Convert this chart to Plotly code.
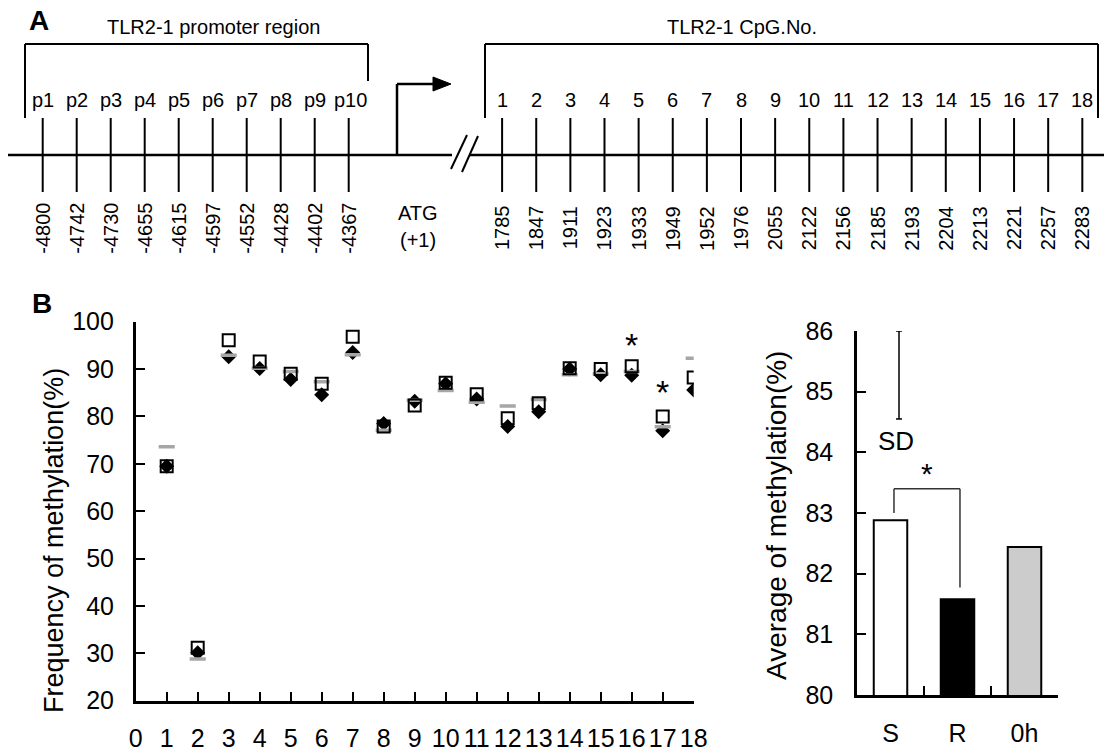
import plotly.graph_objects as go

# ---- panel A: TLR2-1 map ----
promoter_labels = ["p1", "p2", "p3", "p4", "p5", "p6", "p7", "p8", "p9", "p10"]
promoter_pos = ["-4800", "-4742", "-4730", "-4655", "-4615", "-4597", "-4552", "-4428", "-4402", "-4367"]
cpg_labels = [str(i) for i in range(1, 19)]
cpg_pos = ["1785", "1847", "1911", "1923", "1933", "1949", "1952", "1976", "2055",
           "2122", "2156", "2185", "2193", "2204", "2213", "2221", "2257", "2283"]

# ---- panel B: methylation per CpG ----
cpg_no = list(range(1, 19))
meth_S = [69.5, 31.2, 96.1, 91.6, 89.0, 86.9, 96.8, 77.9, 82.3, 87.1, 84.7, 79.6, 82.8, 90.2, 90.0, 90.6, 80.0, 88.2]
meth_R = [69.5, 30.1, 92.6, 90.1, 87.8, 84.6, 93.5, 78.5, 83.2, 86.9, 83.7, 77.9, 81.0, 90.0, 88.8, 88.7, 77.0, 85.6]
meth_0h = [73.6, 28.8, 92.9, 90.2, 89.5, 87.3, 93.0, 77.1, 83.4, 85.5, 83.0, 82.2, 83.6, 88.8, 89.0, 89.5, 77.8, 92.3]
sig_cpg = [16, 17]
sig_y = [96.1, 86.2]

# ---- panel B: averages ----
groups = ["S", "R", "0h"]
avg_meth = [82.88, 81.58, 82.44]
bar_colors = ["white", "black", "#cccccc"]
sd_value = 1.45

FONT = "Liberation Sans, Arial, sans-serif"
W, H = 1104, 752

fig = go.Figure()

fig.add_trace(go.Scatter(x=cpg_no, y=meth_R, mode="markers", xaxis="x", yaxis="y",
                         marker=dict(symbol="diamond", size=11.5, color="black", line=dict(width=0))))
fig.add_trace(go.Scatter(x=cpg_no, y=meth_0h, mode="markers", xaxis="x", yaxis="y",
                         marker=dict(symbol="line-ew", size=11.5, line=dict(color="#a6a6a6", width=3.5))))
fig.add_trace(go.Scatter(x=cpg_no, y=meth_S, mode="markers", xaxis="x", yaxis="y",
                         marker=dict(symbol="square-open", size=12, color="black", line=dict(width=2))))

fig.add_trace(go.Bar(x=groups, y=avg_meth, xaxis="x2", yaxis="y2", width=0.5,
                     marker=dict(color=bar_colors, line=dict(color="black", width=2))))

shapes = []
ann = []


def line(x0, y0, x1, y1, w=2, color="black", xr="x3", yr="y3"):
    shapes.append(dict(type="line", xref=xr, yref=yr, x0=x0, y0=y0, x1=x1, y1=y1,
                       line=dict(color=color, width=w)))


def text(x, y, s, size=20, angle=0, xr="x3", yr="y3", **kw):
    ann.append(dict(x=x, y=y, xref=xr, yref=yr, text=s, showarrow=False, textangle=angle,
                    xanchor="center", yanchor="middle",
                    font=dict(family=FONT, size=size, color="black"), **kw))


# diagram drawn on a full-figure pixel-like axis pair (x3/y3)
axis_y = 155
line(8, axis_y, 452, axis_y, 2.5)
line(470, axis_y, 1104, axis_y, 2.5)
line(451, 169, 467, 135, 2)
line(462, 172, 478, 136, 2)

# promoter bracket
line(25, 118, 25, 44)
line(25, 44, 368, 44)
line(368, 44, 368, 81)
text(213, 27, "TLR2-1 promoter region")
for i, (lab, pos) in enumerate(zip(promoter_labels, promoter_pos)):
    x = 42.7 + 34.0 * i
    line(x, 118, x, 192)
    text(x + (2 if i == 9 else 0), 100, lab)
    text(x, 228, pos, angle=-90)

# TSS arrow
line(397, axis_y, 397, 84, 2.5)
line(397, 84, 436, 84, 2.5)
shapes.append(dict(type="path", xref="x3", yref="y3", path="M 433 77 L 451 84 L 433 91 Z",
                   fillcolor="black", line=dict(color="black", width=1)))
text(418, 213, "ATG")
text(418, 240, "(+1)")

# CpG bracket
line(485, 118, 485, 44)
line(485, 44, 1098, 44)
line(1098, 44, 1098, 118)
text(742, 27, "TLR2-1 CpG.No.")
for i, (lab, pos) in enumerate(zip(cpg_labels, cpg_pos)):
    x = 502.1 + 34.13 * i
    line(x, 118, x, 192)
    text(x, 100, lab)
    text(x, 228, pos, angle=-90)

text(39, 20, "<b>A</b>", size=28)
text(42, 303, "<b>B</b>", size=28)

# significance stars on CpG plot
for cx, cy in zip(sig_cpg, sig_y):
    text(cx, cy, "*", size=34, xr="x", yr="y", yshift=-5)

# SD key and bracket on the bar plot
sd_x = 0.127
line(sd_x, 86, sd_x, 86 - sd_value, 1.5, xr="x2", yr="y2")
line(sd_x - 0.045, 86, sd_x + 0.045, 86, 1.5, xr="x2", yr="y2")
line(sd_x - 0.045, 86 - sd_value, sd_x + 0.045, 86 - sd_value, 1.5, xr="x2", yr="y2")
text(0.082, 84.18, "SD", size=26, xr="x2", yr="y2")
line(0.052, avg_meth[0] + 0.12, 0.052, 83.4, 1.5, color="#333333", xr="x2", yr="y2")
line(0.052, 83.4, 1.037, 83.4, 1.5, color="#333333", xr="x2", yr="y2")
line(1.037, 83.4, 1.037, avg_meth[1] + 0.19, 1.5, color="#333333", xr="x2", yr="y2")
text(0.54, 83.71, "*", size=30, xr="x2", yr="y2", yshift=-4)

# axis titles
text(54 / W, 1 - 541 / H, "Frequency of methylation(%)", size=27, angle=-90, xr="paper", yr="paper")
text(776 / W, 1 - 516 / H, "Average of methylation(%)", size=28, angle=-90, xr="paper", yr="paper")

tick_font = dict(family=FONT, size=25, color="black")
common = dict(showgrid=False, zeroline=False, showline=True, linecolor="black", linewidth=2.5,
              ticks="inside", tickcolor="black", tickwidth=2, tickfont=tick_font, automargin=False)

fig.update_layout(
    width=W, height=H,
    margin=dict(l=0, r=0, t=0, b=0, pad=0, autoexpand=False),
    paper_bgcolor="white", plot_bgcolor="rgba(0,0,0,0)",
    showlegend=False,
    font=dict(family=FONT, color="black"),
    xaxis=dict(domain=[135.7 / W, 693.7 / W], range=[0, 18], tickvals=list(range(0, 19)),
               ticklen=9, anchor="y", ticklabelstandoff=14, **common),
    yaxis=dict(domain=[1 - 700.7 / H, 1 - 321.7 / H], range=[20, 100], dtick=10,
               ticklen=10, anchor="x", ticklabelstandoff=14, **common),
    xaxis2=dict(domain=[857 / W, 1058 / W], type="category", tickson="boundaries",
                range=[-0.5, 2.5], ticklen=9, anchor="y2", ticklabelstandoff=14, **common),
    yaxis2=dict(domain=[1 - 695 / H, 1 - 331 / H], range=[80, 86], dtick=1,
                ticklen=9, anchor="x2", ticklabelstandoff=16, **common),
    xaxis3=dict(domain=[0, 1], range=[0, W], visible=False, anchor="y3",
                fixedrange=True, automargin=False),
    yaxis3=dict(domain=[0, 1], range=[H, 0], visible=False, anchor="x3",
                fixedrange=True, automargin=False),
    shapes=shapes,
    annotations=ann,
)

fig.write_html("out.html", config={"displayModeBar": False},
               post_script="document.body.style.margin='0px';")
